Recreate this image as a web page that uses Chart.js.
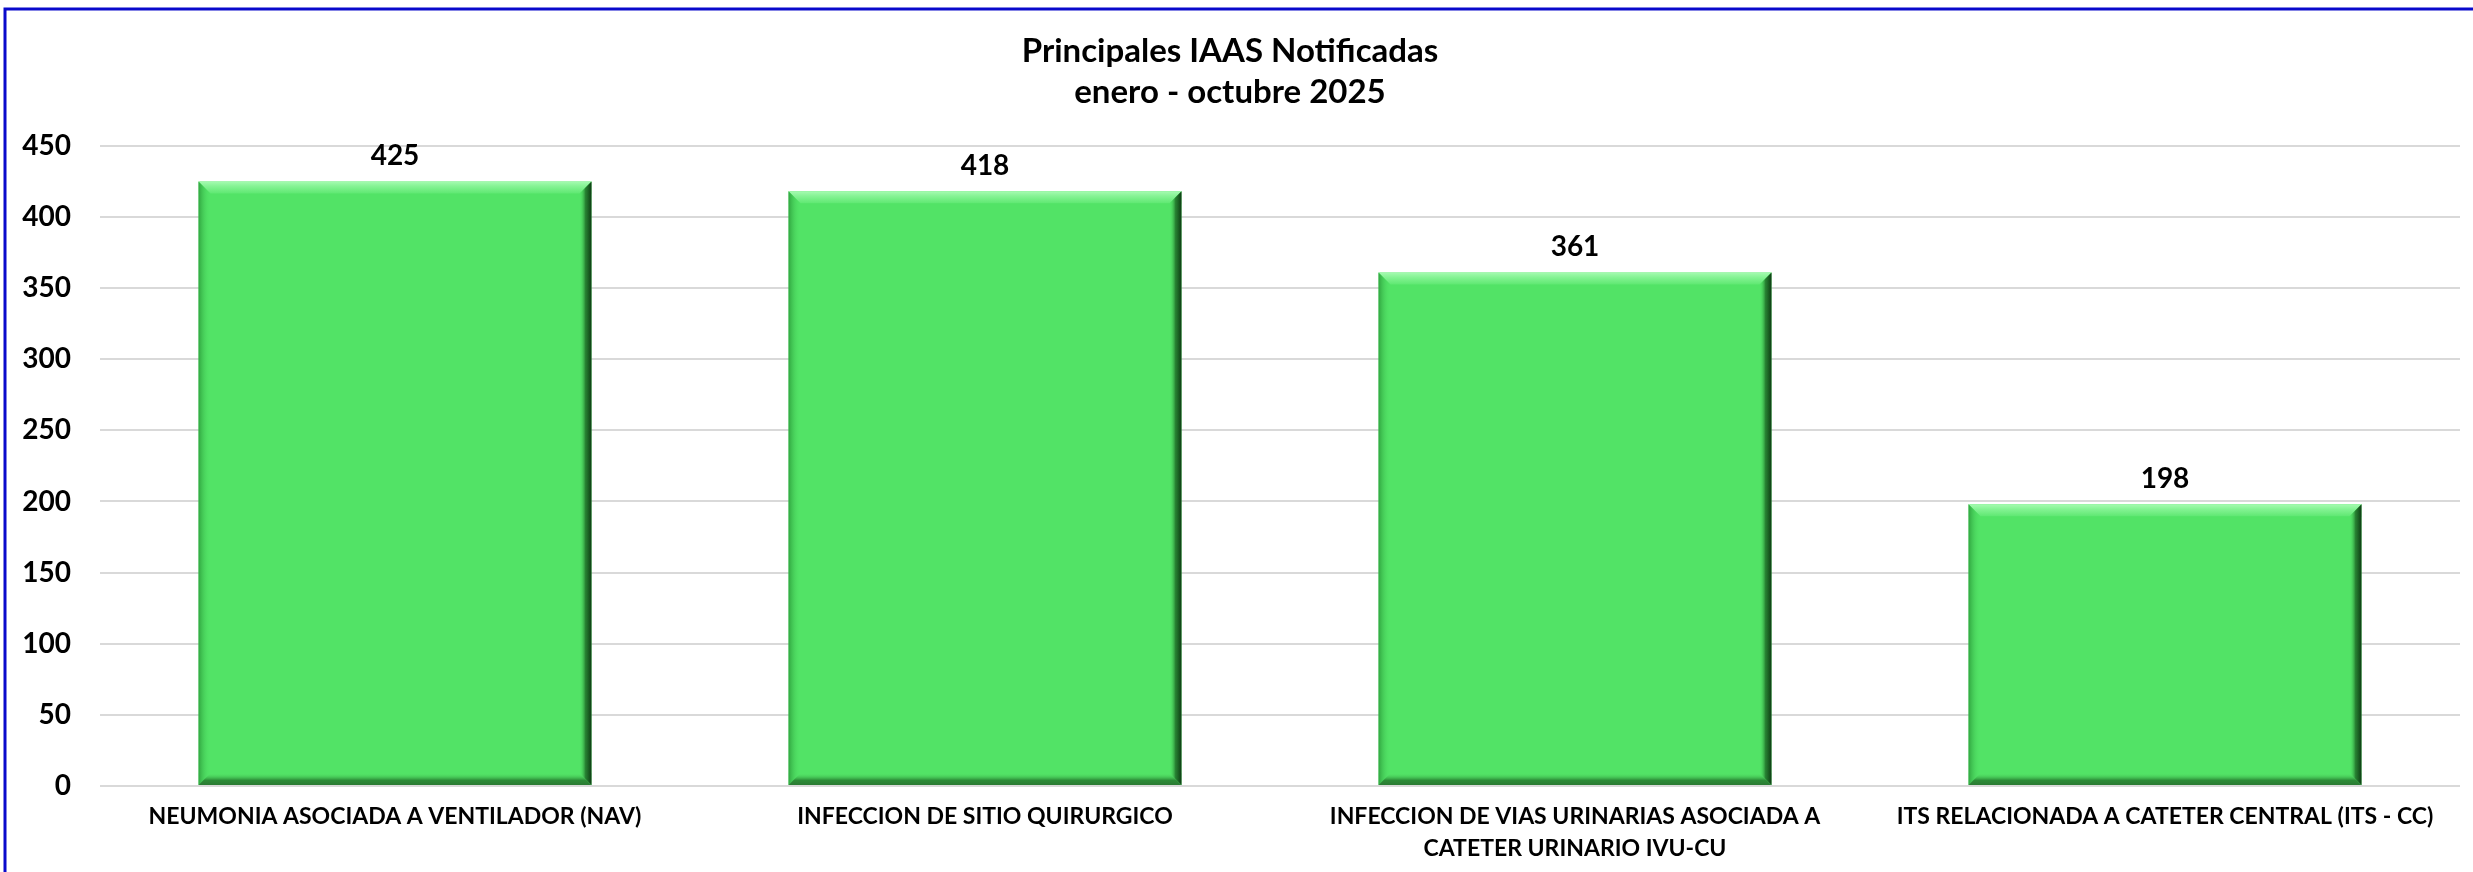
<!DOCTYPE html>
<html>
<head>
<meta charset="utf-8">
<script src="https://cdn.jsdelivr.net/npm/chart.js@4.4.1/dist/chart.umd.min.js"></script>
<style>
  html, body { margin: 0; padding: 0; background: #fff; }
  #wrap { width: 2473px; height: 872px; position: relative; }
</style>
</head>
<body>
<div id="wrap"><canvas id="iaas-chart"></canvas></div>
<script>
const categories = [
  'NEUMONIA ASOCIADA A VENTILADOR (NAV)',
  'INFECCION DE SITIO QUIRURGICO',
  ['INFECCION DE VIAS URINARIAS ASOCIADA A', 'CATETER URINARIO IVU-CU'],
  'ITS RELACIONADA A CATETER CENTRAL (ITS - CC)'
];
const casos = [425, 418, 361, 198];
const titleLines = ['Principales IAAS Notificadas', 'enero - octubre 2025'];
const yTicks = [0, 50, 100, 150, 200, 250, 300, 350, 400, 450];

const FONT = 'Lato, "Open Sans", sans-serif';

// blue frame on top and left like the original picture
const framePlugin = {
  id: 'frame',
  beforeDraw(chart) {
    const c = chart.ctx;
    c.save();
    c.fillStyle = '#fff';
    c.fillRect(0, 0, chart.width, chart.height);
    c.strokeStyle = '#0a0acc';
    c.lineWidth = 3;
    c.beginPath();
    c.moveTo(5, chart.height);
    c.lineTo(5, 9);
    c.lineTo(chart.width, 9);
    c.stroke();
    c.restore();
  }
};

// bevel edges + value labels over bars
const bevelPlugin = {
  id: 'bevel',
  afterDatasetsDraw(chart) {
    const c = chart.ctx;
    const meta = chart.getDatasetMeta(0);
    meta.data.forEach((bar, i) => {
      const p = bar.getProps(['x', 'y', 'base', 'width'], true);
      const l = p.x - p.width / 2, r = p.x + p.width / 2;
      const t = p.y, b = p.base;
      const e = 12;
      c.save();
      // top light
      let g = c.createLinearGradient(0, t, 0, t + e);
      g.addColorStop(0, '#a6fbb1');
      g.addColorStop(0.4, '#85f394');
      g.addColorStop(1, '#5fe872');
      c.fillStyle = g;
      c.beginPath();
      c.moveTo(l, t); c.lineTo(r, t); c.lineTo(r - e, t + e); c.lineTo(l + e, t + e);
      c.closePath(); c.fill();
      // left slight shade
      g = c.createLinearGradient(l, 0, l + e, 0);
      g.addColorStop(0, 'rgba(40,150,55,0.8)');
      g.addColorStop(1, 'rgba(82,227,102,0)');
      c.fillStyle = g;
      c.beginPath();
      c.moveTo(l, t); c.lineTo(l + e, t + e); c.lineTo(l + e, b - e); c.lineTo(l, b);
      c.closePath(); c.fill();
      // right dark
      g = c.createLinearGradient(r - e, 0, r, 0);
      g.addColorStop(0, 'rgba(82,227,102,0)');
      g.addColorStop(0.5, 'rgba(35,120,45,0.9)');
      g.addColorStop(1, '#0d3a12');
      c.fillStyle = g;
      c.beginPath();
      c.moveTo(r, t); c.lineTo(r, b); c.lineTo(r - e, b - e); c.lineTo(r - e, t + e);
      c.closePath(); c.fill();
      // bottom dark
      g = c.createLinearGradient(0, b - e, 0, b);
      g.addColorStop(0, 'rgba(82,227,102,0)');
      g.addColorStop(0.6, 'rgba(40,130,50,0.9)');
      g.addColorStop(1, '#2b7a33');
      c.fillStyle = g;
      c.beginPath();
      c.moveTo(l, b); c.lineTo(r, b); c.lineTo(r - e, b - e); c.lineTo(l + e, b - e);
      c.closePath(); c.fill();

      // value label
      c.fillStyle = '#000';
      c.font = 'bold 28px ' + FONT;
      c.textAlign = 'center';
      c.textBaseline = 'bottom';
      c.fillText(casos[i], p.x, t - 11);
      c.restore();
    });
  }
};

const ctx = document.getElementById('iaas-chart');
new Chart(ctx, {
  type: 'bar',
  data: {
    labels: categories,
    datasets: [{
      label: 'Casos',
      data: casos,
      backgroundColor: '#52e366',
      borderWidth: 0,
      categoryPercentage: 1,
      barPercentage: 0.666
    }]
  },
  options: {
    responsive: true,
    maintainAspectRatio: false,
    animation: false,
    layout: { padding: { left: 0, right: 13, top: 0, bottom: 0 } },
    plugins: {
      legend: { display: false },
      tooltip: { enabled: false },
      title: {
        display: true,
        text: titleLines,
        color: '#000',
        font: { family: FONT, size: 33, weight: 'bold', lineHeight: 1.24 },
        padding: { top: 31, bottom: 33 }
      }
    },
    scales: {
      y: {
        min: 0,
        max: 450,
        afterBuildTicks(scale) {
          scale.ticks = yTicks.map(v => ({ value: v }));
        },
        afterFit(scale) { scale.width = 100; },
        border: { display: false },
        grid: { color: '#d9d9d9', lineWidth: 2, drawTicks: false },
        ticks: {
          color: '#000',
          padding: 29,
          font: { family: FONT, size: 28, weight: 'bold' }
        }
      },
      x: {
        afterFit(scale) { scale.height = 86; },
        border: { display: false },
        grid: { display: false, drawTicks: false },
        ticks: {
          color: '#000',
          padding: 15,
          maxRotation: 0,
          autoSkip: false,
          font: { family: FONT, size: 23, weight: 'bold', lineHeight: 1.39 }
        }
      }
    }
  },
  plugins: [framePlugin, bevelPlugin]
});
</script>
</body>
</html>
